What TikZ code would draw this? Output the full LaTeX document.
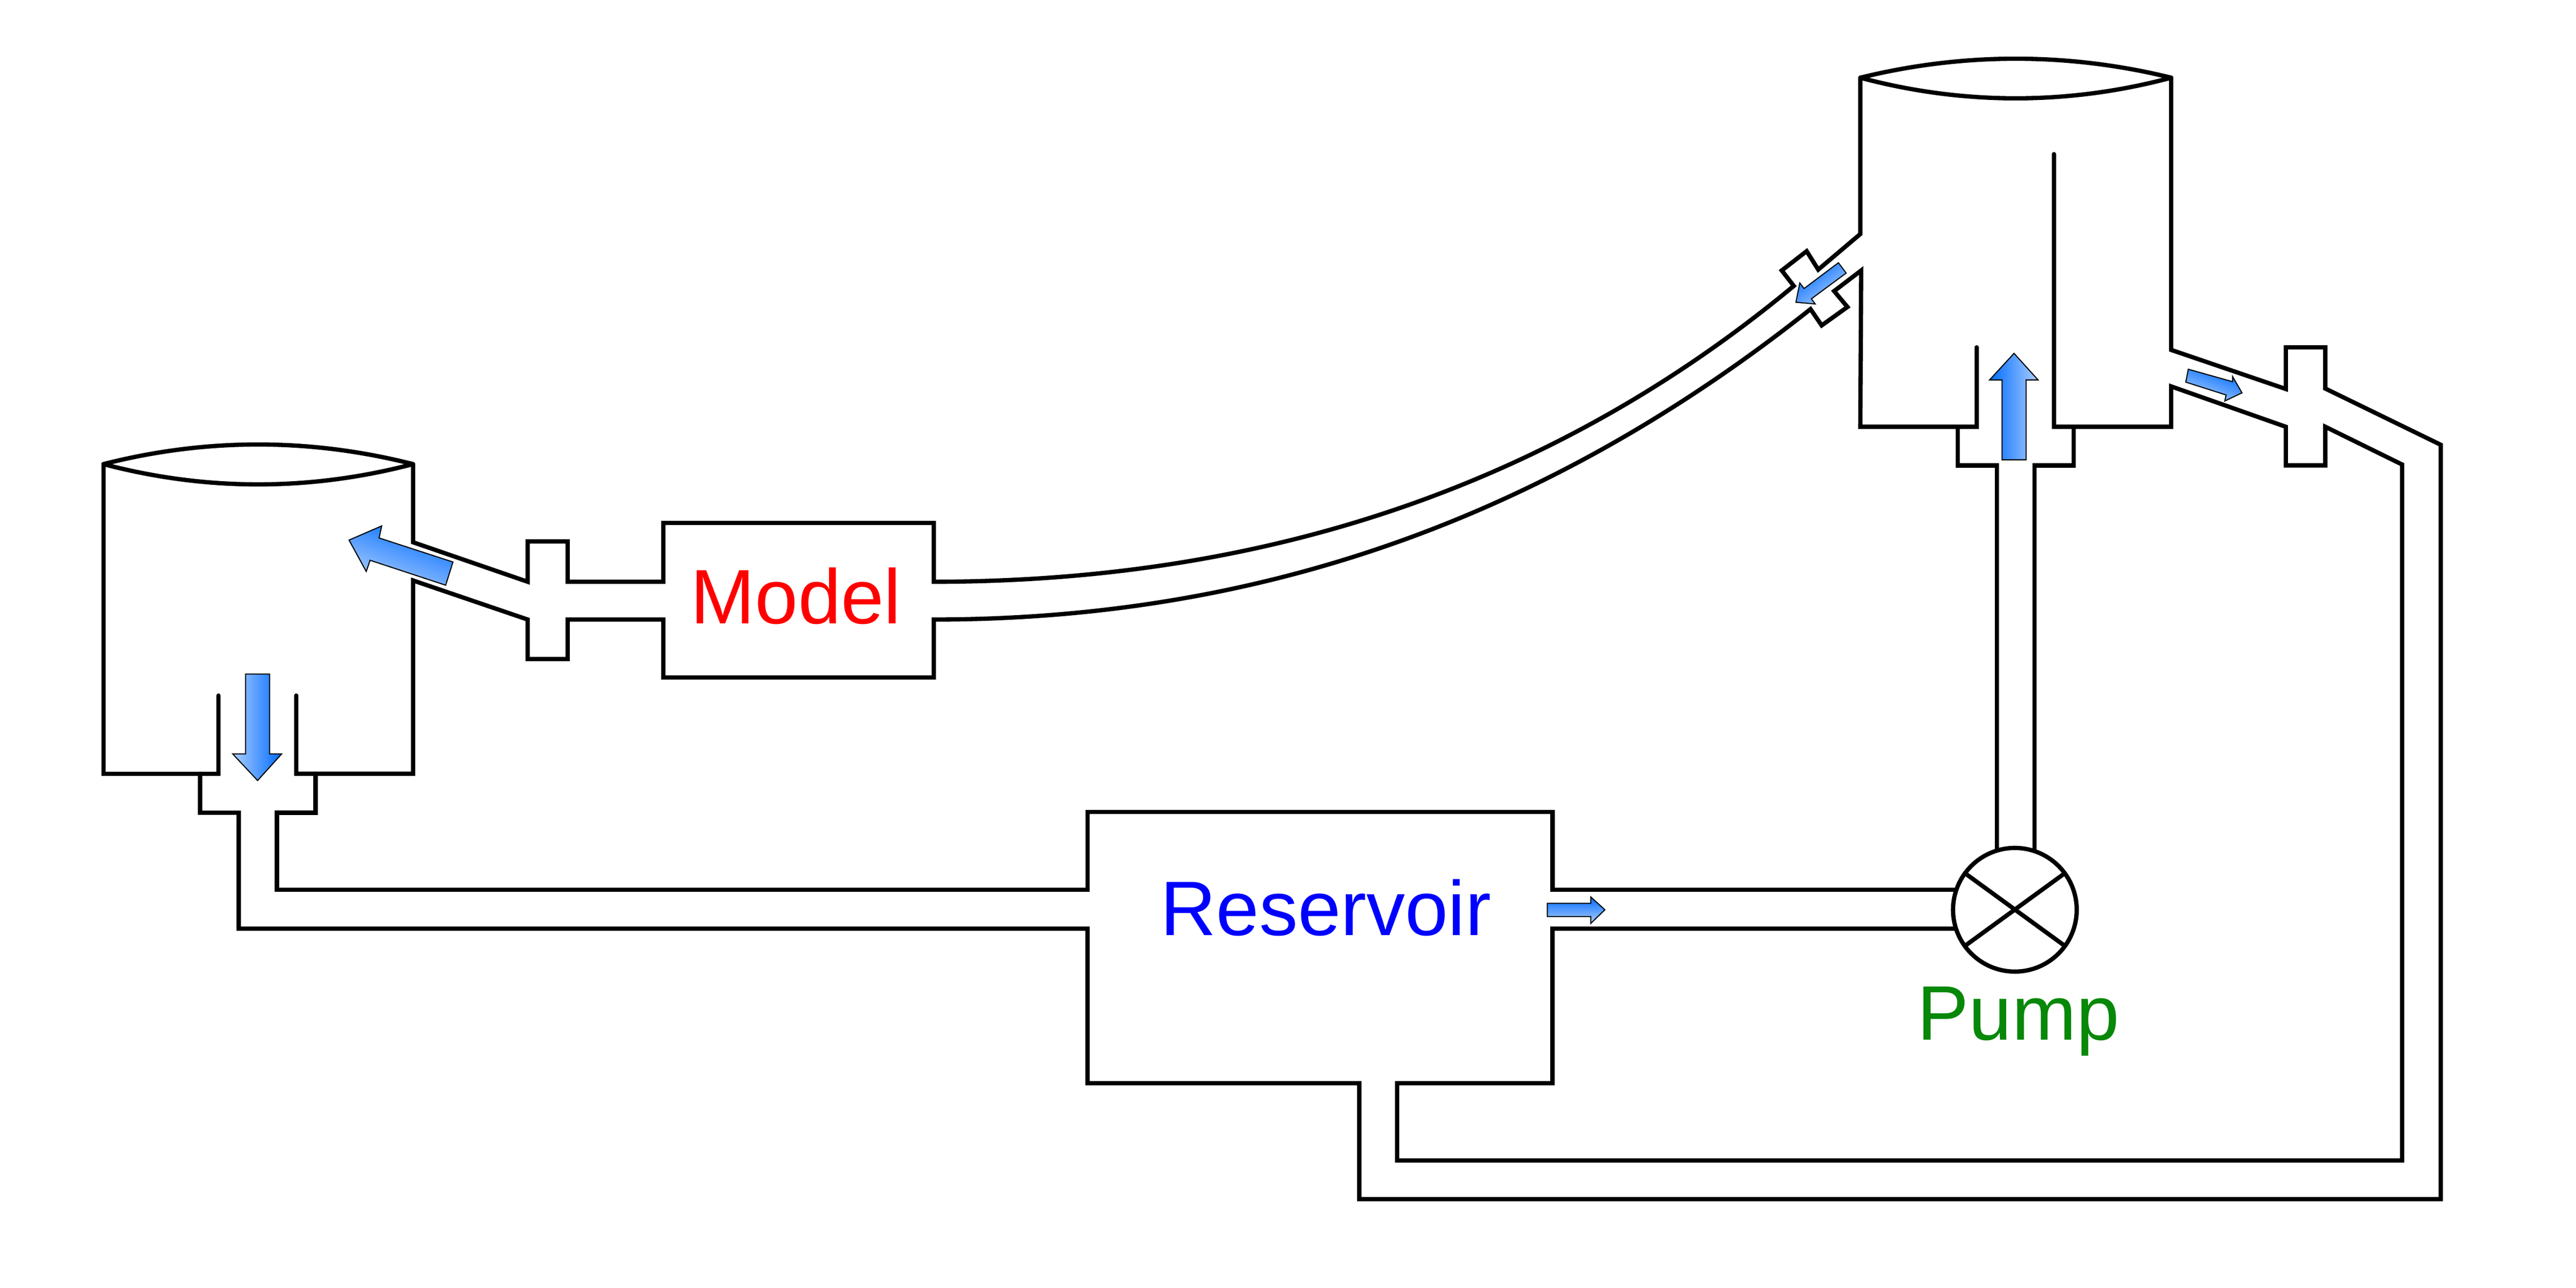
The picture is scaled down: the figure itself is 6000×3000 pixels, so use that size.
\documentclass[tikz,border=0pt]{standalone}
\usepackage{fontspec}
\setmainfont{Liberation Sans}
\definecolor{flowdark}{RGB}{0,108,255}
\definecolor{flowlight}{RGB}{172,206,255}
\definecolor{pumpgreen}{RGB}{8,136,8}
\tikzset{
  pipe/.style={line width=10pt,black,line join=miter,line cap=round},
  flow/.style={draw=black,line width=2.5pt,line join=miter,left color=flowdark,right color=flowlight},
  label/.style={inner sep=0pt,anchor=base,font=\fontsize{180}{200}\selectfont}
}
\begin{document}
\begin{tikzpicture}[x=1pt,y=-1pt]
\useasboundingbox (0,0) rectangle (6000,3000);
\fill[white] (0,0) rectangle (6000,3000);
% left tank
\draw[pipe] (241,1081) .. controls (480,1020) and (722,1020) .. (962,1081);
\draw[pipe] (241,1081) .. controls (480,1144) and (722,1144) .. (962,1081);
\draw[pipe] (241,1081) -- (241,1802) -- (509,1802) -- (509,1620);
\draw[pipe] (690,1620) -- (690,1802) -- (962,1802) -- (962,1352)
  -- (1229,1443) -- (1229,1535) -- (1322,1535) -- (1322,1443) -- (1545,1443)
  -- (1545,1578) -- (2175,1578) -- (2175,1443)
  .. controls (2990,1443) and (3650,1170) .. (4217,720)
  -- (4243,758) -- (4303,715) -- (4272,678) -- (4335,630) -- (4333,994) -- (4604,994) -- (4604,809);
\draw[pipe] (962,1081) -- (962,1263) -- (1229,1355) -- (1229,1261) -- (1322,1261) -- (1322,1355)
  -- (1545,1355) -- (1545,1218) -- (2175,1218) -- (2175,1355)
  .. controls (2957,1355) and (3625,1125) .. (4178,666)
  -- (4150,630) -- (4208,585) -- (4235,628) -- (4333,545) -- (4333,181);
% right tank
\draw[pipe] (4333,181) .. controls (4572,122) and (4818,122) .. (5057,181);
\draw[pipe] (4333,181) .. controls (4572,245) and (4818,245) .. (5057,181);
\draw[pipe] (4784,359) -- (4784,994) -- (5057,994) -- (5057,900) -- (5324,994) -- (5324,1084)
  -- (5416,1084) -- (5416,994) -- (5595,1082) -- (5595,2703) -- (3254,2703) -- (3254,2523)
  -- (3616,2523) -- (3616,2163) -- (4600,2163);
\draw[pipe] (5057,181) -- (5057,815) -- (5324,906) -- (5324,809) -- (5416,809) -- (5416,905)
  -- (5685,1036) -- (5685,2793) -- (3166,2793) -- (3166,2523) -- (2533,2523) -- (2533,2163)
  -- (556,2163) -- (556,1893) -- (466,1893) -- (466,1802);
\draw[pipe] (735,1802) -- (735,1893) -- (645,1893) -- (645,2072) -- (2533,2072) -- (2533,1891)
  -- (3616,1891) -- (3616,2072) -- (4600,2072);
\draw[pipe] (4560,994) -- (4560,1084) -- (4651,1084) -- (4651,2050);
\draw[pipe] (4830,994) -- (4830,1084) -- (4739,1084) -- (4739,2050);
% pump
\node[circle,draw=black,fill=white,line width=10pt,minimum size=288pt,inner sep=0pt] (pump) at (4693,2119) {};
\draw[pipe] (4581,2037) -- (4805,2200);
\draw[pipe] (4581,2200) -- (4805,2037);
% flow arrows
\shadedraw[flow,shading angle=270] (572,1570) -- (628,1570) -- (628,1756) -- (656,1756) -- (600,1818) -- (542,1756) -- (572,1756) -- cycle;
\shadedraw[flow,shading angle=90] (4663,1071) -- (4719,1071) -- (4719,885) -- (4747,885) -- (4691,823) -- (4634,885) -- (4663,885) -- cycle;
\shadedraw[flow,shading angle=0] (3604,2104) -- (3705,2104) -- (3705,2089) -- (3738,2119) -- (3705,2151) -- (3705,2135) -- (3604,2135) -- cycle;
\shadedraw[flow,shading angle=-20] (1055,1309) -- (883,1253) -- (889,1225) -- (813,1258) -- (853,1331) -- (862,1305) -- (1038,1363) -- cycle;
\shadedraw[flow,shading angle=340] (5097,860) -- (5200,889) -- (5200,877) -- (5222,915) -- (5182,934) -- (5185,920) -- (5091,890) -- cycle;
\shadedraw[flow,shading angle=37] (4282,612) -- (4300,636) -- (4219,696) -- (4228,708) -- (4183,704) -- (4192,659) -- (4202,672) -- cycle;
% labels
\node[label,text=red] (model) at (1854,1452) {Model};
\node[label,text=blue] (reservoir) at (3088,2179) {Reservoir};
\node[label,text=pumpgreen] (pumplabel) at (4701,2422) {Pump};
\end{tikzpicture}
\end{document}
